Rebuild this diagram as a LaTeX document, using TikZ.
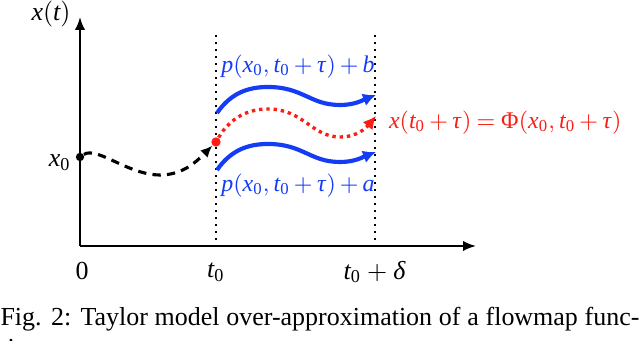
\documentclass[tikz,border=0pt]{standalone}
\usepackage{mathspec}
\setmainfont{Liberation Serif}
\setmathsfont(Digits,Latin,Greek){Liberation Serif}
\setmathrm{Liberation Serif}
\usepackage{xcolor}
\usepackage{tikz}
\usetikzlibrary{arrows.meta,positioning,calc}

\definecolor{tmblue}{RGB}{20,60,245}
\definecolor{tmred}{RGB}{250,30,20}
\newcommand\tightmath{\medmuskip=3mu\relax\thickmuskip=4mu\relax}

\begin{document}
\begin{tikzpicture}[
    x=0.385pt, y=-0.385pt,
    axis/.style={-{Latex[length=5pt,width=4pt]}, line width=0.8pt},
    bound/.style={line width=0.7pt, dash pattern=on 0.7pt off 2pt},
    flow/.style={-{Latex[length=5pt,width=5pt]}, line width=1.6pt, tmblue},
    truth/.style={-{Latex[length=5pt,width=5pt]}, line width=1.3pt, tmred, dash pattern=on 1.3pt off 1.5pt},
    init/.style={-{Latex[length=4.5pt,width=4pt]}, line width=1.2pt, dash pattern=on 3.2pt off 2.4pt},
    dot/.style={circle, inner sep=0pt, minimum size=#1},
    lbl/.style={font=\fontsize{10}{12}\selectfont, inner sep=1pt},
    mlbl/.style={font=\fontsize{9.2}{11}\selectfont\tightmath, inner sep=1pt}
]
    \useasboundingbox (0,0) rectangle (640,341);

    % Axes
    \coordinate (origin) at (80,246);
    \coordinate (ytip) at (80,17);
    \coordinate (xtip) at (476,246);
    \draw[axis] (origin) -- (ytip);
    \draw[axis] (origin) -- (xtip);
    \node[lbl] (xlab) at (51,14) {$x(t)$};
    \node[lbl] (zero) at (82,271) {0};
    \node[lbl] (tzero) at (216,272) {$t_0$};
    \node[lbl] (tdelta) at (375,272) {$t_0+\delta$};

    % Time window
    \coordinate (wl) at (216,35);
    \coordinate (wlb) at (216,246);
    \coordinate (wr) at (375,35);
    \coordinate (wrb) at (375,246);
    \draw[bound] (wl) -- (wlb);
    \draw[bound] (wr) -- (wrb);

    % Initial state and trajectory up to t0
    \node[dot=3.2pt, fill=black] (xzero) at (80,157) {};
    \node[lbl, anchor=east] (xzerolab) at (74,163) {$x_0$};
    \node[dot=3.6pt, fill=tmred] (phizero) at (216,142) {};
    \draw[init] (xzero) .. controls (97,146) and (128,175) .. (160,175)
        .. controls (184,175) and (198,160) .. (phizero);

    % Taylor model bounds
    \coordinate (ubs) at (217,113);
    \coordinate (ube) at (376,95);
    \coordinate (lbs) at (217,170);
    \coordinate (lbe) at (376,152);
    \coordinate (phie) at (376,116);
    \draw[flow] (ubs) .. controls (231,93) and (248,87) .. (268,87)
        .. controls (303,87) and (310,105) .. (340,105)
        .. controls (355,105) and (363,100) .. (ube);
    \draw[flow] (lbs) .. controls (231,150) and (248,144) .. (268,144)
        .. controls (303,144) and (310,162) .. (340,162)
        .. controls (355,162) and (363,157) .. (lbe);
    \draw[truth] (phizero) .. controls (230,118) and (248,109) .. (268,109)
        .. controls (303,109) and (312,137) .. (340,137)
        .. controls (357,137) and (366,128) .. (phie);

    % Labels
    \node[mlbl, tmblue] (uplab) at (298,67) {$p(x_0,t_0+\tau)+b$};
    \node[mlbl, tmblue] (lowlab) at (298,186) {$p(x_0,t_0+\tau)+a$};
    \node[mlbl, tmred, anchor=west] (philab) at (386,123) {$x(t_0+\tau)=\Phi(x_0,t_0+\tau)$};

    % Caption
    \node[lbl, anchor=base west, inner sep=0pt] (cap) at (0,326)
        {\makebox[246pt][s]{Fig. 2: Taylor model over-approximation of a flowmap func-}};
    \node[lbl, anchor=base west, inner sep=0pt] (capcut) at (0,357) {tion.};
\end{tikzpicture}
\end{document}
